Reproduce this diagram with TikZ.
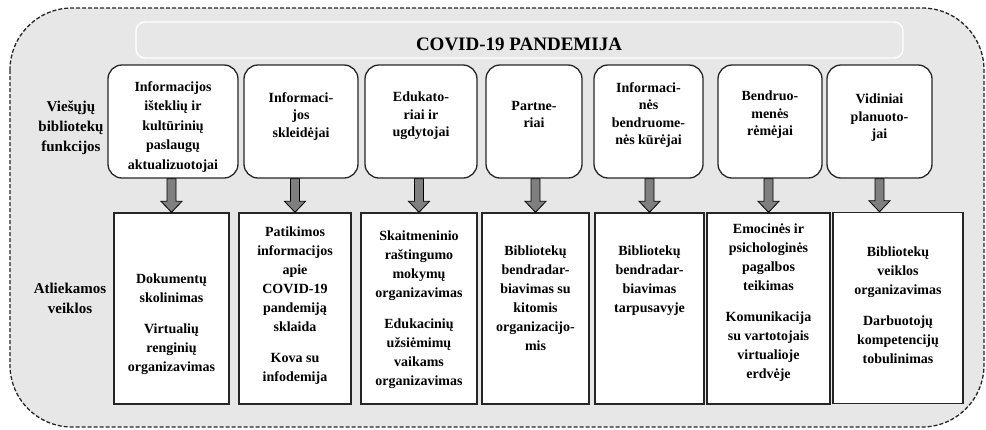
\documentclass[tikz,border=0pt]{standalone}
\usepackage{fontspec}
\setmainfont{Liberation Serif}
\usetikzlibrary{calc}
\definecolor{bggray}{HTML}{E7E7E7}
\definecolor{arrowgray}{HTML}{7F7F7F}
\definecolor{linedark}{HTML}{262626}
\newcommand\blockarrow[2]{%
  \draw[barrow] ($(#1)+(-4.5,0)$) -- ($(#1)+(4.5,0)$) -- ($(#2)+(4.5,-11)$) -- ($(#2)+(10.5,-11)$) -- (#2) -- ($(#2)+(-10.5,-11)$) -- ($(#2)+(-4.5,-11)$) -- cycle;}
\begin{document}
\begin{tikzpicture}[x=1pt,y=-1pt,
  outer/.style={draw=linedark, dash pattern=on 4pt off 2pt, line width=1.3pt, fill=bggray, rounded corners=62pt},
  titlebox/.style={draw=white, line width=1.4pt, rounded corners=9pt, fill=bggray, inner sep=0},
  titletxt/.style={font=\fontsize{19}{22}\selectfont\bfseries, inner sep=0},
  topbox/.style={draw=linedark, line width=1.3pt, fill=white, rounded corners=14pt, inner sep=0, minimum height=113pt},
  botbox/.style={draw=linedark, line width=1.4pt, fill=white, inner sep=0, minimum height=191pt},
  toptxt/.style={font=\fontsize{14}{17.5}\selectfont\bfseries, align=center, inner sep=0, anchor=north},
  toptxtA/.style={font=\fontsize{14}{19.5}\selectfont\bfseries, align=center, inner sep=0, anchor=north},
  bottxt/.style={font=\fontsize{14}{19}\selectfont\bfseries, align=center, inner sep=0, anchor=north},
  sidetxt/.style={font=\fontsize{15}{20}\selectfont\bfseries, align=center, inner sep=0, anchor=north},
  barrow/.style={draw=black, line width=0.8pt, fill=arrowgray}
]
\useasboundingbox (0,0) rectangle (986,429);
\draw[outer] (10,8) rectangle (984,427);

% title
\node[titlebox, minimum width=767pt, minimum height=36pt] (titlebox) at (519.5,40) {};
\node[titletxt] (title) at (519,44) {COVID-19 PANDEMIJA};

% side labels
\node[sidetxt] (funk) at (71,101) {Viešųjų\\bibliotekų\\funkcijos};
\node[sidetxt] (veik) at (70,283) {Atliekamos\\veiklos};

% top boxes
\node[topbox, minimum width=130pt] (t1) at (173,121.5) {};
\node[topbox, minimum width=114pt] (t2) at (301,121.5) {};
\node[topbox, minimum width=112pt] (t3) at (421,121.5) {};
\node[topbox, minimum width=96pt]  (t4) at (534,121.5) {};
\node[topbox, minimum width=109pt] (t5) at (648.5,121.5) {};
\node[topbox, minimum width=104pt] (t6) at (770,121.5) {};
\node[topbox, minimum width=105pt] (t7) at (879.5,121.5) {};

\node[toptxtA] (t1x) at (173,81) {Informacijos\\išteklių ir\\kultūrinių\\paslaugų\\aktualizuotojai};
\node[toptxt] (t2x) at (301,92) {Informaci-\\jos\\skleidėjai};
\node[toptxt] (t3x) at (421,92) {Edukato-\\riai ir\\ugdytojai};
\node[toptxt] (t4x) at (534,101) {Partne-\\riai};
\node[toptxt] (t5x) at (648.5,82) {Informaci-\\nės\\bendruome-\\nės kūrėjai};
\node[toptxt] (t6x) at (770,91) {Bendruo-\\menės\\rėmėjai};
\node[toptxt] (t7x) at (879.5,94) {Vidiniai\\planuoto-\\jai};

% bottom boxes
\node[botbox, minimum width=115pt] (b1) at (171.5,308.5) {};
\node[botbox, minimum width=112pt] (b2) at (295,308.5) {};
\node[botbox, minimum width=116pt] (b3) at (419,308.5) {};
\node[botbox, minimum width=107pt] (b4) at (535.5,308.5) {};
\node[botbox, minimum width=109pt] (b5) at (649.5,308.5) {};
\node[botbox, minimum width=123pt] (b6) at (768.5,308.5) {};
\node[botbox, minimum width=130pt] (b7) at (898,308) {};

\node[bottxt] (b1x) at (171.5,274) {Dokumentų\\skolinimas\\[12pt]Virtualių\\renginių\\organizavimas};
\node[bottxt] (b2x) at (295,227) {Patikimos\\informacijos\\apie\\COVID-19\\pandemiją\\sklaida\\[12pt]Kova su\\infodemija};
\node[bottxt] (b3x) at (419,231) {Skaitmeninio\\raštingumo\\mokymų\\organizavimas\\[12pt]Edukacinių\\užsiėmimų\\vaikams\\organizavimas};
\node[bottxt] (b4x) at (535.5,246) {Bibliotekų\\bendradar-\\biavimas su\\kitomis\\organizacijo-\\mis};
\node[bottxt] (b5x) at (649.5,246) {Bibliotekų\\bendradar-\\biavimas\\tarpusavyje};
\node[bottxt] (b6x) at (768.5,224) {Emocinės ir\\psichologinės\\pagalbos\\teikimas\\[12pt]Komunikacija\\su vartotojais\\virtualioje\\erdvėje};
\node[bottxt] (b7x) at (898,247) {Bibliotekų\\veiklos\\organizavimas\\[12pt]Darbuotojų\\kompetencijų\\tobulinimas};

% arrows
\coordinate (a1s) at (t1.south -| b1.north); \coordinate (a1e) at (b1.north);
\coordinate (a2s) at (t2.south -| b2.north); \coordinate (a2e) at (b2.north);
\coordinate (a3s) at (t3.south -| b3.north); \coordinate (a3e) at (b3.north);
\coordinate (a4s) at (t4.south -| b4.north); \coordinate (a4e) at (b4.north);
\coordinate (a5s) at (t5.south -| b5.north); \coordinate (a5e) at (b5.north);
\coordinate (a6s) at (t6.south -| b6.north); \coordinate (a6e) at (b6.north);
\coordinate (a7s) at (t7.south); \coordinate (a7e) at (b7.north -| t7.south);
\blockarrow{a1s}{a1e}
\blockarrow{a2s}{a2e}
\blockarrow{a3s}{a3e}
\blockarrow{a4s}{a4e}
\blockarrow{a5s}{a5e}
\blockarrow{a6s}{a6e}
\blockarrow{a7s}{a7e}
\end{tikzpicture}
\end{document}
